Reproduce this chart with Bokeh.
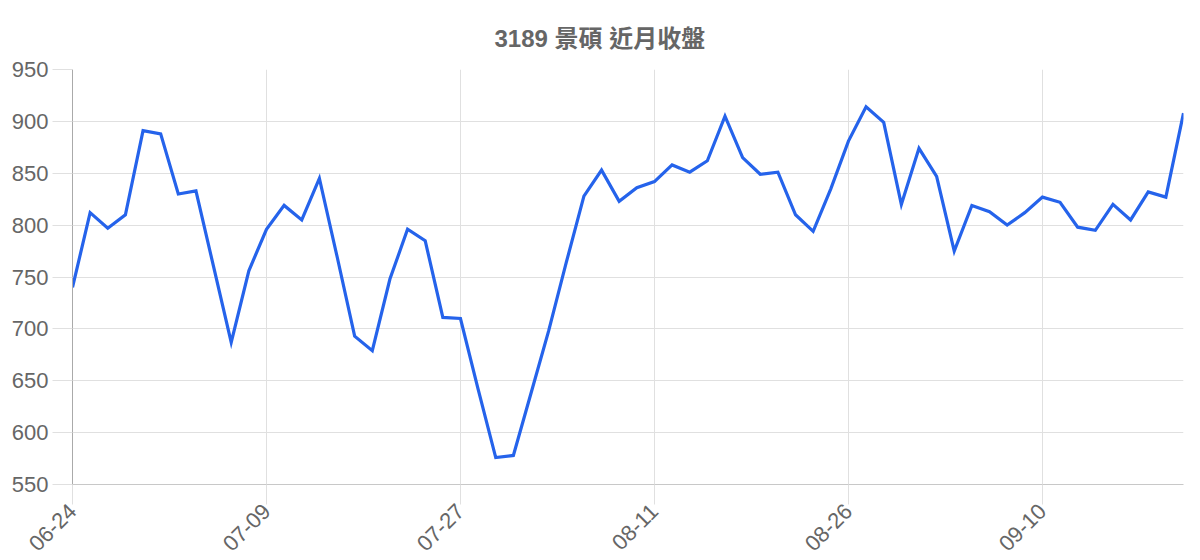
from bokeh.plotting import figure
from bokeh.models import Range1d, FixedTicker, ColumnDataSource
from bokeh.embed import file_html
from bokeh.resources import INLINE

title_text = "3189 景碩 近月收盤"

dates = ["06-24", "06-25", "06-26", "06-27", "06-28", "07-01", "07-02", "07-03", "07-04", "07-05",
         "07-08", "07-09", "07-10", "07-11", "07-12", "07-15", "07-16", "07-17", "07-18", "07-19",
         "07-22", "07-23", "07-27", "07-29", "07-30", "07-31", "08-01", "08-02", "08-05", "08-06",
         "08-07", "08-08", "08-09", "08-11", "08-12", "08-13", "08-14", "08-15", "08-16", "08-19",
         "08-20", "08-21", "08-22", "08-23", "08-26", "08-27", "08-28", "08-29", "08-30", "09-02",
         "09-03", "09-04", "09-05", "09-06", "09-09", "09-10", "09-11", "09-12", "09-13", "09-16",
         "09-17", "09-18", "09-19", "09-20"]

close = [740, 812, 797, 810, 891, 888, 830, 833, 760, 687,
         756, 796, 819, 805, 845, 770, 693, 679, 748, 796,
         785, 711, 710, 642, 576, 578, 638, 698, 764, 828,
         853, 823, 836, 842, 858, 851, 862, 905, 865, 849,
         851, 810, 794, 835, 881, 914, 899, 820, 874, 847,
         775, 819, 813, 800, 812, 827, 822, 798, 795, 820,
         805, 832, 827, 908]

y_ticks = [550, 600, 650, 700, 750, 800, 850, 900, 950]
x_step = 11

idx = list(range(len(dates)))
x_ticks = idx[::x_step]

src = ColumnDataSource(dict(x=idx, y=close, d=dates))

p = figure(width=1192, height=560, output_backend="svg", toolbar_location=None,
           x_range=Range1d(0, len(dates) - 1), y_range=Range1d(y_ticks[0], y_ticks[-1]),
           min_border_left=72, min_border_right=9, min_border_top=69, min_border_bottom=68)

p.title.text = title_text
p.title.align = "left"
p.title.text_font = "'Liberation Sans', 'Noto Sans CJK TC', sans-serif"
p.title.text_font_size = "24px"
p.title.text_font_style = "bold"
p.title.text_color = "#666666"
p.title.standoff = 35
p.title.offset = 422

p.line("x", "y", source=src, line_color="#2563eb", line_width=3.2, line_join="miter")

p.outline_line_color = None
p.background_fill_color = "white"
p.border_fill_color = "white"

# axes
p.xaxis.ticker = FixedTicker(ticks=x_ticks)
p.xaxis.major_label_overrides = {i: dates[i] for i in x_ticks}
p.xaxis.major_label_orientation = 0.785398
p.yaxis.ticker = FixedTicker(ticks=y_ticks)

for ax in (p.xaxis[0], p.yaxis[0]):
    ax.major_label_text_font = "Liberation Sans"
    ax.major_label_text_font_size = "22px"
    ax.major_label_text_color = "#666666"
    ax.major_tick_out = 20
    ax.major_tick_in = 0
    ax.major_tick_line_color = "#e0e0e0"
    ax.minor_tick_line_color = None

p.yaxis.axis_line_color = "#aaaaaa"
p.xaxis.axis_line_color = "#c8c8c8"
p.yaxis.major_label_standoff = 4
p.xaxis.major_label_standoff = 3

p.xgrid.ticker = FixedTicker(ticks=x_ticks)
p.ygrid.ticker = FixedTicker(ticks=y_ticks)
p.xgrid.grid_line_color = "#e0e0e0"
p.ygrid.grid_line_color = "#e0e0e0"

open("out.html", "w").write(file_html(p, INLINE))
